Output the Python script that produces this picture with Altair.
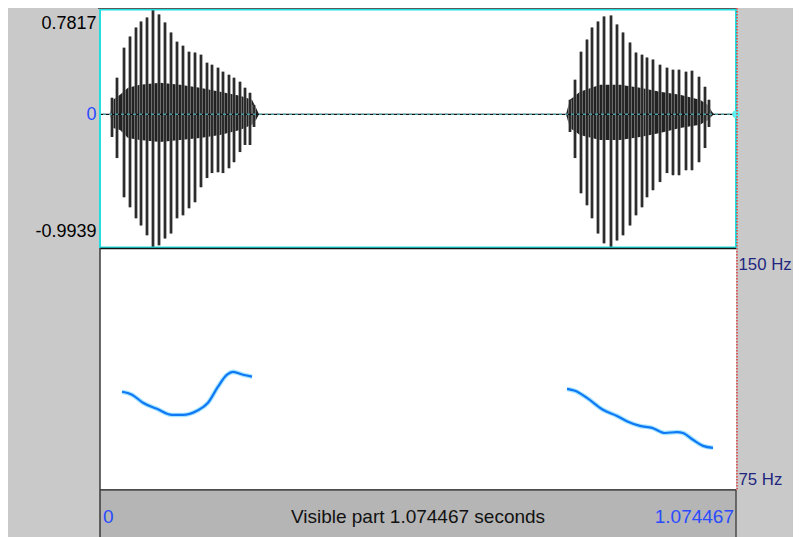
import altair as alt
import pandas as pd

# ---------------- data ----------------
DUR = 1.074467
WAVE_MAX = 0.7817
WAVE_MIN = -0.9939
F0_TOP = 150
F0_BOT = 75

# glottal pulses (time s, positive peak, negative peak)
pulse1_t = [0.0203, 0.0287, 0.0406, 0.0507, 0.0608, 0.0693, 0.0794, 0.0895, 0.0997, 0.1098,
            0.1200, 0.1301, 0.1402, 0.1504, 0.1605, 0.1706, 0.1808, 0.1892, 0.1994, 0.2078,
            0.2179, 0.2264, 0.2365, 0.2450, 0.2534, 0.2602]
pulse1_max = [0.123, 0.273, 0.497, 0.580, 0.647, 0.692, 0.722, 0.7817, 0.745, 0.685,
              0.610, 0.542, 0.512, 0.467, 0.460, 0.445, 0.385, 0.370, 0.348, 0.318,
              0.295, 0.273, 0.243, 0.198, 0.160, 0.070]
pulse1_min = [-0.169, -0.327, -0.619, -0.694, -0.776, -0.829, -0.903, -0.9939, -0.978, -0.926,
              -0.889, -0.776, -0.754, -0.701, -0.656, -0.544, -0.476, -0.439, -0.432, -0.439,
              -0.402, -0.357, -0.282, -0.229, -0.229, -0.094]

pulse2_t = [0.7940, 0.8025, 0.8126, 0.8227, 0.8312, 0.8413, 0.8515, 0.8633, 0.8734, 0.8836,
            0.8954, 0.9055, 0.9157, 0.9241, 0.9342, 0.9461, 0.9579, 0.9680, 0.9782, 0.9900,
            1.0001, 1.0120, 1.0221, 1.0288]
pulse2_max = [0.108, 0.258, 0.467, 0.557, 0.647, 0.692, 0.730, 0.737, 0.670, 0.610,
              0.535, 0.460, 0.445, 0.423, 0.408, 0.370, 0.348, 0.333, 0.333, 0.318,
              0.325, 0.280, 0.205, 0.108]
pulse2_min = [-0.132, -0.327, -0.589, -0.679, -0.776, -0.889, -0.963, -0.9939, -0.941, -0.903,
              -0.829, -0.754, -0.694, -0.619, -0.566, -0.506, -0.439, -0.454, -0.454, -0.417,
              -0.417, -0.357, -0.252, -0.094]

# dense low-amplitude core of each burst (envelope)
core1_t = [0.0169, 0.0220, 0.0338, 0.0473, 0.0676, 0.1014, 0.1352, 0.1689, 0.2027, 0.2365,
           0.2568, 0.2636, 0.2686]
core1_top = [0, 0.108, 0.145, 0.198, 0.220, 0.235, 0.220, 0.198, 0.168, 0.138, 0.108, 0.048, 0]
core1_bot = [0, -0.102, -0.117, -0.177, -0.192, -0.207, -0.192, -0.177, -0.154, -0.117, -0.079, -0.042, 0]
core2_t = [0.7873, 0.7940, 0.8109, 0.8447, 0.8785, 0.9123, 0.9461, 0.9799, 1.0136, 1.0272,
           1.0339, 1.0373]
core2_top = [0, 0.108, 0.168, 0.220, 0.220, 0.198, 0.168, 0.145, 0.108, 0.070, 0.018, 0]
core2_bot = [0, -0.102, -0.154, -0.192, -0.192, -0.169, -0.139, -0.102, -0.079, -0.042, -0.012, 0]

# pitch contour (Hz)
f0_1_t = [0.0372, 0.0541, 0.0726, 0.0963, 0.1216, 0.1402, 0.1639, 0.1825, 0.1994, 0.2146,
          0.2247, 0.2416, 0.2568]
f0_1_hz = [105.5, 104.6, 102.1, 100.2, 98.3, 98.3, 99.6, 102.1, 107.1, 110.8, 111.7, 110.8, 110.2]
f0_2_t = [0.7890, 0.8025, 0.8227, 0.8498, 0.8734, 0.8920, 0.9123, 0.9326, 0.9545, 0.9748,
          0.9849, 1.0018, 1.0187, 1.0356]
f0_2_hz = [106.4, 105.8, 103.6, 99.9, 98.0, 96.2, 94.9, 94.3, 92.7, 93.0, 92.7, 90.6, 88.7, 88.1]

bar_texts = ["0", "Visible part 1.074467 seconds", "1.074467"]

# ---------------- layout ----------------
W, H = 636, 529
FONT = "Liberation Sans"
FS = 18
BG = "#c9c9c9"
CYAN = "#22dede"
BLUE = "#2a4bff"
NAVY = "#1f2680"

# waveform panel occupies pixel rows 1.5 .. 239.5 of the plot
wp_top, wp_bot = 1.5, 239.5
per = (WAVE_MAX - WAVE_MIN) / (wp_bot - wp_top)
wave_dom = [WAVE_MAX - (H - wp_top) * per, WAVE_MAX + wp_top * per]
# pitch panel occupies pixel rows 240.5 .. 482
pp_top, pp_bot = 240.5, 482.0
perh = (F0_TOP - F0_BOT) / (pp_bot - pp_top)
f0_dom = [F0_BOT - (H - pp_bot) * perh, F0_TOP + pp_top * perh]

x_scale = alt.Scale(domain=[0, DUR], nice=False, zero=False)
wave_scale = alt.Scale(domain=wave_dom, nice=False, zero=False)
f0_scale = alt.Scale(domain=f0_dom, nice=False, zero=False)

pulses = pd.DataFrame({"t": pulse1_t + pulse2_t,
                       "top": pulse1_max + pulse2_max,
                       "bot": pulse1_min + pulse2_min})
core = pd.DataFrame({"t": core1_t + core2_t,
                     "top": core1_top + core2_top,
                     "bot": core1_bot + core2_bot,
                     "burst": [1] * len(core1_t) + [2] * len(core2_t)})
f0 = pd.DataFrame({"t": f0_1_t + f0_2_t, "hz": f0_1_hz + f0_2_hz,
                   "seg": [1] * len(f0_1_t) + [2] * len(f0_2_t)})
zero_df = pd.DataFrame({"t": [DUR], "top": [0.0]})
frame_df = pd.DataFrame({"t": [0.0], "t2": [DUR], "top": [WAVE_MAX], "bot": [WAVE_MIN]})
hz_lines = pd.DataFrame({"hz": [F0_TOP, F0_BOT]})
one = pd.DataFrame({"v": [0]})

wave_axis = alt.Axis(
    orient="left", values=[WAVE_MAX, 0, WAVE_MIN], title=None, domain=False, ticks=False,
    grid=False, labelPadding=4, labelFont=FONT, labelFontSize=FS, labelBaseline="alphabetic",
    labelFlush=False, labelOverlap=False,
    labelExpr="datum.value > 0.5 ? '0.7817' : (datum.value < -0.5 ? '-0.9939' : '0')",
    labelColor={"condition": {"test": "datum.value == 0", "value": BLUE}, "value": "black"},
    labelOffset={"condition": [{"test": "datum.value > 0.5", "value": 19},
                               {"test": "datum.value < -0.5", "value": -11}], "value": 5.5},
)
f0_axis = alt.Axis(
    orient="right", values=[F0_TOP, F0_BOT], title=None, domain=False, ticks=False, grid=False,
    labelPadding=2, labelFont=FONT, labelFontSize=16.8, labelBaseline="alphabetic",
    labelColor=NAVY, labelAlign="left", labelFlush=False, labelOverlap=False,
    labelExpr="datum.value + ' Hz'",
    labelOffset={"condition": {"test": "datum.value > 100", "value": 20.5}, "value": -5.5},
)

X = alt.X("t:Q", scale=x_scale, axis=None)
WY = alt.Y("top:Q", scale=wave_scale, axis=wave_axis)
FY = alt.Y("hz:Q", scale=f0_scale, axis=f0_axis)

core_area = alt.Chart(core).mark_area(color="#222222").encode(
    x=X, y=WY, y2="bot:Q", detail="burst:N")
halo = alt.Chart(pulses).mark_rule(color="#8c8c8c", strokeWidth=3.4).encode(
    x=X, y=WY, y2="bot:Q")
pulse_rules = alt.Chart(pulses).mark_rule(color="#0d0d0d", strokeWidth=1.5).encode(
    x=X, y=WY, y2="bot:Q")
zero_line = alt.Chart(zero_df).mark_rule(color="#111", strokeWidth=1.2).encode(y=WY)
zero_dash = alt.Chart(zero_df).mark_rule(color="#55b8c2", strokeWidth=1.4, strokeDash=[3, 3],
                                         opacity=0.85).encode(y=WY)
wave_frame = alt.Chart(frame_df).mark_rect(fillOpacity=0, stroke=CYAN, strokeWidth=2).encode(
    x=X, x2="t2:Q", y=WY, y2="bot:Q")
end_dot = alt.Chart(zero_df).mark_circle(color="#5cf0f0", size=55, opacity=1).encode(x=X, y=WY)

wave = alt.layer(core_area, halo, pulse_rules, zero_line, zero_dash, wave_frame, end_dot)

f0_halo = alt.Chart(f0).mark_line(color="#a8e6ff", strokeWidth=4.6, interpolate="monotone").encode(
    x=X, y=FY, detail="seg:N")
f0_line = alt.Chart(f0).mark_line(color="#0f78f5", strokeWidth=2.2, interpolate="monotone").encode(
    x=X, y=FY, detail="seg:N")
seps = alt.Chart(hz_lines).mark_rule(color="#111", strokeWidth=1.5).encode(y=FY)
bar = alt.Chart(one).mark_rect(color="#b5b5b5").encode(
    x=alt.value(0), x2=alt.value(W), y=alt.value(482.75), y2=alt.value(H))
left_border = alt.Chart(one).mark_rule(color="#3a3a3a", strokeWidth=1.5).encode(
    x=alt.value(0), y=alt.value(240), y2=alt.value(H))
bar_right = alt.Chart(one).mark_rule(color="#4a4a4a", strokeWidth=1.5).encode(
    x=alt.value(W), y=alt.value(482), y2=alt.value(H))
red_dots = alt.Chart(one).mark_rule(color="#e03c3c", strokeWidth=1.5, strokeDash=[1.5, 1.5]).encode(
    x=alt.value(W + 1), y=alt.value(0), y2=alt.value(482))
top_line = alt.Chart(one).mark_rule(color="#5a5a5a", strokeWidth=1).encode(
    y=alt.value(0.5), x=alt.value(-2), x2=alt.value(W))

txt_left = alt.Chart(one).mark_text(text=bar_texts[0], align="left", baseline="middle", dx=3,
                                    font=FONT, fontSize=19, color=BLUE).encode(
    x=alt.datum(0), y=alt.value(509))
txt_mid = alt.Chart(one).mark_text(text=bar_texts[1], align="center", baseline="middle",
                                   font=FONT, fontSize=19, color="#111").encode(
    x=alt.datum(DUR / 2), y=alt.value(509))
txt_right = alt.Chart(one).mark_text(text=bar_texts[2], align="right", baseline="middle", dx=-2,
                                     font=FONT, fontSize=19, color=BLUE).encode(
    x=alt.datum(DUR), y=alt.value(509))

pitch = alt.layer(f0_halo, f0_line, seps, bar, left_border, bar_right, red_dots,
                  top_line, txt_left, txt_mid, txt_right)

chart = alt.layer(wave, pitch).resolve_scale(y="independent").properties(
    width=W, height=H,
    autosize=alt.AutoSizeParams(type="none"),
    padding={"left": 92, "top": 0, "right": 57, "bottom": 0},
    background=BG,
).configure_view(stroke=None, fill="white")

chart.save("out.html", embed_options={"renderer": "svg", "actions": False})
